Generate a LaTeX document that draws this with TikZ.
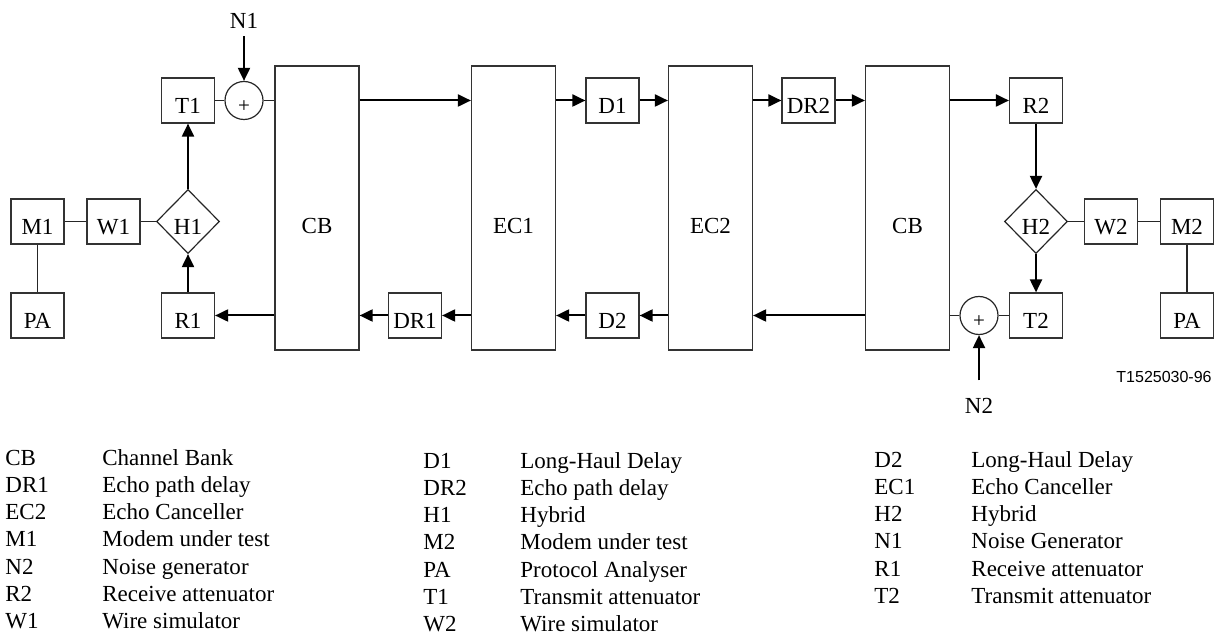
\documentclass[tikz,border=0pt]{standalone}
\usepackage{fontspec}
\setmainfont{Liberation Serif}
\newfontfamily\helv{Liberation Sans}
\usetikzlibrary{arrows.meta,shapes.geometric,calc}
\begin{document}
\begin{tikzpicture}[x=0.5pt,y=-0.5pt,
  lbl/.style={font=\fontsize{11.5}{13}\selectfont},
  box/.style={draw=black!80, line width=0.6pt, minimum width=26.5pt, minimum height=22.5pt,
    inner sep=0pt, lbl, text height=13.5pt, text depth=0pt},
  tall/.style={draw=black!80, line width=0.6pt, minimum width=42pt, minimum height=142pt,
    inner sep=0pt, lbl, text height=25.5pt, text depth=0pt},
  hyb/.style={diamond, draw=black!85, line width=0.6pt, minimum width=31.5pt, minimum height=32pt,
    inner sep=0pt, lbl, text height=13.5pt, text depth=0pt},
  sumc/.style={circle, draw=black!85, line width=0.6pt, minimum size=19pt, inner sep=0pt,
    font=\fontsize{10.5}{11}\selectfont, text height=12.5pt, text depth=0pt},
  arr/.style={-{Triangle[length=6.5pt,width=6pt]}, line width=1pt},
  wire/.style={line width=0.6pt, draw=black!85},
  leg/.style={anchor=base west, inner sep=0pt, lbl}]
\useasboundingbox (0,0) rectangle (1218,640);

% left side
\node[box] (M1) at (37.5,221.5) {M1};
\node[box] (W1) at (113.5,221.5) {W1};
\node[hyb] (H1) at (188,221.5) {H1};
\node[box] (PA1) at (37.5,315.5) {PA};
\node[box] (T1) at (188,100.5) {T1};
\node[box] (R1) at (188,315.5) {R1};
\node[sumc] (s1) at (244,100.5) {+};
\node[lbl, anchor=base, inner sep=0pt] (n1) at (244,29) {N1};

% channel chain
\node[tall] (CB1) at (317,208) {CB};
\node[tall] (EC1) at (513.5,208) {EC1};
\node[tall] (EC2) at (710.5,208) {EC2};
\node[tall] (CB2) at (907.5,208) {CB};
\node[box] (D1) at (612.5,100.5) {D1};
\node[box] (DR2) at (808.5,100.5) {DR2};
\node[box] (DR1) at (415,315.5) {DR1};
\node[box] (D2) at (612.5,315.5) {D2};

% right side
\node[box] (R2) at (1036,100.5) {R2};
\node[hyb] (H2) at (1036,221.5) {H2};
\node[box] (W2) at (1111,221.5) {W2};
\node[box] (M2) at (1187,221.5) {M2};
\node[box] (PA2) at (1187,315.5) {PA};
\node[box] (T2) at (1036,315.5) {T2};
\node[sumc] (s2) at (979,315.5) {+};
\node[lbl, anchor=base, inner sep=0pt] (n2) at (979,414) {N2};
\node[anchor=base east, inner sep=0pt, font=\helv\fontsize{8}{9}\selectfont] (ref) at (1212,383) {T1525030-96};

% left connections
\draw[wire] (M1) -- (W1);
\draw[wire] (W1) -- (H1);
\draw[wire] (M1) -- (PA1);
\draw[arr] (R1) -- (H1);
\draw[arr] (H1) -- (T1);
\draw[wire] (T1) -- (s1);
\draw[wire] (s1) -- (CB1.west |- s1);
\draw[arr] (n1.south) ++(0,7) coordinate (n1a) (n1a) -- (s1.north);

% upper path
\draw[arr] (CB1.east |- D1) -- (EC1.west |- D1);
\draw[arr] (EC1.east |- D1) -- (D1.west);
\draw[arr] (D1.east) -- (EC2.west |- D1);
\draw[arr] (EC2.east |- DR2) -- (DR2.west);
\draw[arr] (DR2.east) -- (CB2.west |- DR2);
\draw[arr] (CB2.east |- R2) -- (R2.west);

% right connections
\draw[arr] (R2) -- (H2);
\draw[arr] (H2) -- (T2);
\draw[wire] (H2) -- (W2);
\draw[wire] (W2) -- (M2);
\draw[wire] (M2) -- (PA2);
\draw[wire] (T2) -- (s2);
\draw[wire] (s2) -- (CB2.east |- s2);
\draw[arr] (n2.north) ++(0,-18) coordinate (n2a) (n2a) -- (s2.south);

% lower path
\draw[arr] (CB2.west |- D2) -- (EC2.east |- D2);
\draw[arr] (EC2.west |- D2) -- (D2.east);
\draw[arr] (D2.west) -- (EC1.east |- D2);
\draw[arr] (EC1.west |- DR1) -- (DR1.east);
\draw[arr] (DR1.west) -- (CB1.east |- DR1);
\draw[arr] (CB1.west |- R1) -- (R1.east);

% legend
\foreach \a/\d [count=\i from 0] in {CB/Channel Bank, DR1/Echo path delay, EC2/Echo Canceller,
  M1/Modem under test, N2/Noise generator, R2/Receive attenuator, W1/Wire simulator}{
  \node[leg] (la\i) at (5,465+27.3*\i) {\a};
  \node[leg] (lda\i) at (102,465+27.3*\i) {\d};
}
\foreach \a/\d [count=\i from 0] in {D1/Long-Haul Delay, DR2/Echo path delay, H1/Hybrid,
  M2/Modem under test, PA/Protocol Analyser, T1/Transmit attenuator, W2/Wire simulator}{
  \node[leg] (lb\i) at (423,468+27.3*\i) {\a};
  \node[leg] (ldb\i) at (520,468+27.3*\i) {\d};
}
\foreach \a/\d [count=\i from 0] in {D2/Long-Haul Delay, EC1/Echo Canceller, H2/Hybrid,
  N1/Noise Generator, R1/Receive attenuator, T2/Transmit attenuator}{
  \node[leg] (lc\i) at (874,467+27.3*\i) {\a};
  \node[leg] (ldc\i) at (971,467+27.3*\i) {\d};
}
\end{tikzpicture}
\end{document}
